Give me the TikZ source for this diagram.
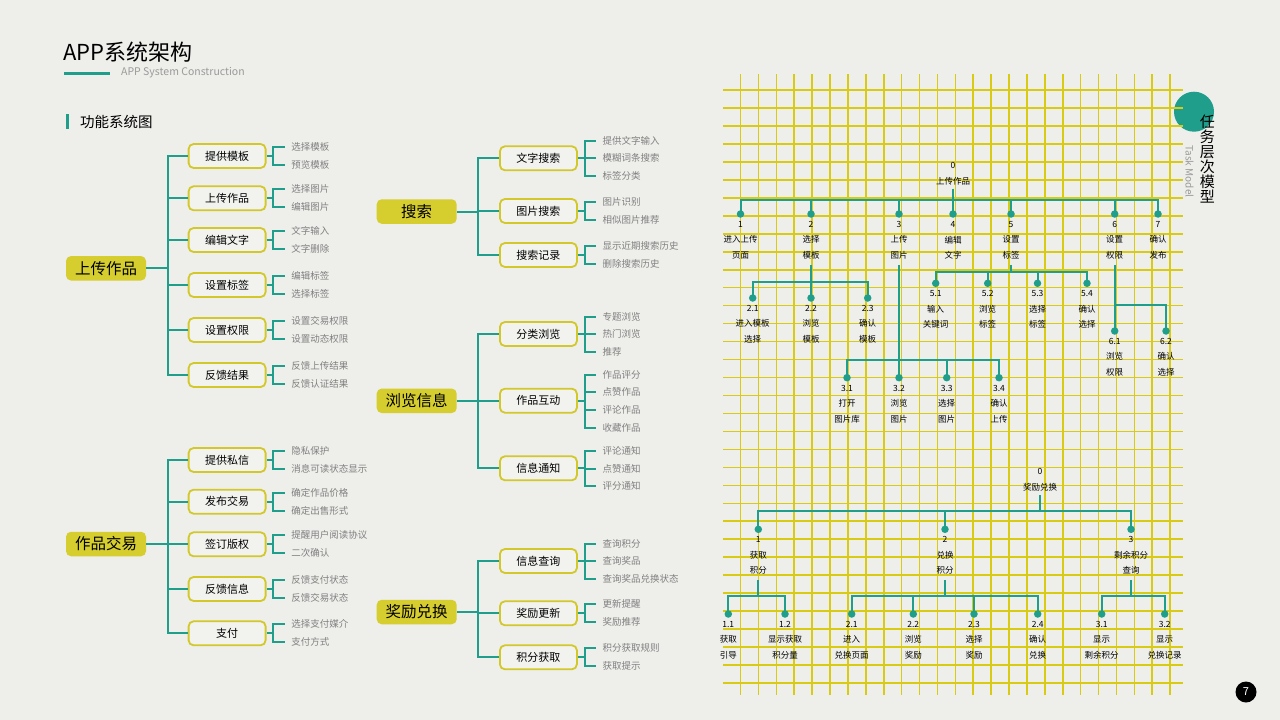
\documentclass[tikz,border=0pt]{standalone}
\usepackage{fontspec}
\setmainfont{Noto Sans CJK SC}
\definecolor{paper}{HTML}{EEEEEB}
\definecolor{teal1}{HTML}{1E9E8B}
\definecolor{ybord}{HTML}{D3C82A}
\definecolor{yfill}{HTML}{D6CD2E}
\definecolor{gridc}{HTML}{D9CB14}
\definecolor{leafc}{HTML}{808080}
\definecolor{boxfill}{HTML}{F2F2EF}
\definecolor{subc}{HTML}{9A9A9A}
\tikzset{
 conn/.style={draw=teal1, line width=2pt},
 mainbox/.style={fill=yfill, rounded corners=5pt, minimum width=80pt, minimum height=24.5pt, inner sep=0, font=\fontsize{15.5}{18}\selectfont},
 subbox/.style={draw=ybord, fill=boxfill, line width=1.8pt, rounded corners=5pt, minimum width=77pt, minimum height=24pt, inner sep=0, font=\fontsize{11}{13}\selectfont},
 leafnode/.style={anchor=west, inner sep=0, inner xsep=6.5pt, text=leafc, font=\fontsize{9.5}{11}\selectfont},
 gridl/.style={draw=gridc, line width=1.6pt},
 tdot/.style={circle, fill=teal1, minimum size=7.5pt, inner sep=0},
 tnum/.style={inner sep=0, font=\fontsize{8.5}{10}\selectfont},
 ttxt/.style={inner sep=0, align=center, font=\fontsize{8.5}{15.5}\selectfont},
}
\newcommand{\mkbranch}[6]{%
  \node[subbox,anchor=west] (#2) at (#3,#4) {#5};
  \draw[conn] (#1) |- (#2.west);
  \coordinate (#2j) at ({#3+77+8.5},#4);
  \draw[conn] (#2.east) -- (#2j);
  \foreach \ly/\lt [count=\i] in {#6} {
    \node[leafnode] (#2l\i) at ({#3+97},\ly) {\lt};
    \draw[conn] (#2j) |- (#2l\i.west);
  }
}
\newcommand{\mktask}[6]{%
  \node[tdot] (#1) at (#2,#3) {};
  \node[tnum] (#1n) at (#2,{#3+10.5}) {#4};
  \node[ttxt] (#1t) at (#2,{#3+33.5}) {#5\\#6};
}
\begin{document}
\begin{tikzpicture}[x=1pt,y=-1pt]
\useasboundingbox (0,0) rectangle (1280,720);
\fill[paper] (0,0) rectangle (1280,720);

% title
\node[anchor=west, inner sep=0, font=\fontsize{22}{26}\selectfont] (title) at (63,52) {APP系统架构};
\draw[teal1, line width=3pt] (64,73) -- (110,73);
\node[anchor=west, inner sep=0, text=subc, font=\fontsize{10.5}{12}\selectfont] (subtitle) at (121,73) {APP System Construction};
\draw[teal1, line width=3.5pt] (67.5,114) -- (67.5,128.5);
\node[anchor=west, inner sep=0, font=\fontsize{14.5}{16}\selectfont] (sec) at (80,121.5) {功能系统图};

% tree 1
\node[mainbox] (m1) at (106,268.3) {上传作品};
\coordinate (m1j) at (168,268.3);
\draw[conn] (m1.east) -- (m1j);
\mkbranch{m1j}{m1a}{187.7}{156}{提供模板}{146.5/选择模板,164.5/预览模板}
\mkbranch{m1j}{m1b}{187.7}{198.3}{上传作品}{189.3/选择图片,207.3/编辑图片}
\mkbranch{m1j}{m1c}{187.7}{240}{编辑文字}{231/文字输入,249/文字删除}
\mkbranch{m1j}{m1d}{187.7}{285}{设置标签}{276/编辑标签,294/选择标签}
\mkbranch{m1j}{m1e}{187.7}{330}{设置权限}{321/设置交易权限,339/设置动态权限}
\mkbranch{m1j}{m1f}{187.7}{375}{反馈结果}{366/反馈上传结果,384/反馈认证结果}

% tree 2
\node[mainbox] (m2) at (106,544) {作品交易};
\coordinate (m2j) at (168,544);
\draw[conn] (m2.east) -- (m2j);
\mkbranch{m2j}{m2a}{187.7}{460}{提供私信}{450.5/隐私保护,468.5/消息可读状态显示}
\mkbranch{m2j}{m2b}{187.7}{501.7}{发布交易}{492.5/确定作品价格,510.5/确定出售形式}
\mkbranch{m2j}{m2c}{187.7}{544.3}{签订版权}{535.3/提醒用户阅读协议,553.3/二次确认}
\mkbranch{m2j}{m2d}{187.7}{589}{反馈信息}{580/反馈支付状态,598/反馈交易状态}
\mkbranch{m2j}{m2e}{187.7}{633.3}{支付}{624.3/选择支付媒介,642.3/支付方式}

% tree 3
\node[mainbox] (m3) at (416.7,211.5) {搜索};
\coordinate (m3j) at (478.3,211.5);
\draw[conn] (m3.east) -- (m3j);
\mkbranch{m3j}{m3a}{499}{158.3}{文字搜索}{140.5/提供文字输入,158.3/模糊词条搜索,176/标签分类}
\mkbranch{m3j}{m3b}{499}{211}{图片搜索}{202/图片识别,220/相似图片推荐}
\mkbranch{m3j}{m3c}{499}{255}{搜索记录}{245.5/显示近期搜索历史,263.5/删除搜索历史}

% tree 4
\node[mainbox] (m4) at (416.7,400.8) {浏览信息};
\coordinate (m4j) at (478.3,400.8);
\draw[conn] (m4.east) -- (m4j);
\mkbranch{m4j}{m4a}{499}{334}{分类浏览}{316.5/专题浏览,334/热门浏览,351.5/推荐}
\mkbranch{m4j}{m4b}{499}{400.7}{作品互动}{375/作品评分,392.3/点赞作品,409.8/评论作品,427.5/收藏作品}
\mkbranch{m4j}{m4c}{499}{468.3}{信息通知}{451/评论通知,468.5/点赞通知,485.5/评分通知}

% tree 5
\node[mainbox] (m5) at (416.7,612) {奖励兑换};
\coordinate (m5j) at (478.3,612);
\draw[conn] (m5.east) -- (m5j);
\mkbranch{m5j}{m5a}{499}{561}{信息查询}{543.5/查询积分,561.3/查询奖品,578.5/查询奖品兑换状态}
\mkbranch{m5j}{m5b}{499}{613.3}{奖励更新}{603.5/更新提醒,621.5/奖励推荐}
\mkbranch{m5j}{m5c}{499}{657.3}{积分获取}{648/积分获取规则,666/获取提示}

% badge (under grid)
\fill[teal1] (1194,111.7) circle (20);

% grid
\foreach \k in {0,...,33} \draw[gridl] (723,{90+17.97*\k}) -- (1183,{90+17.97*\k});
\foreach \k in {0,...,24} \draw[gridl] ({740.5+17.9*\k},74) -- ({740.5+17.9*\k},695);

\node[inner sep=0, align=center, font=\fontsize{15}{15}\selectfont] (badge) at (1207.3,159.2) {任\\务\\层\\次\\模\\型};
\node[inner sep=0, rotate=-90, text=subc, font=\fontsize{10}{12}\selectfont] (taskm) at (1189.5,171.5) {Task Model};

% upper task tree
\node[tnum] (a0n) at (953,165) {0};
\node[ttxt] (a0) at (953,181) {上传作品};
\coordinate (a0j) at (953,200);
\mktask{a1}{740.5}{214}{1}{进入上传}{页面}
\mktask{a2}{811}{214}{2}{选择}{模板}
\mktask{a3}{899}{214}{3}{上传}{图片}
\mktask{a4}{953}{214}{4}{编辑}{文字}
\mktask{a5}{1011}{214}{5}{设置}{标签}
\mktask{a6}{1114.7}{214}{6}{设置}{权限}
\mktask{a7}{1158}{214}{7}{确认}{发布}
\draw[conn] ([yshift=-3.5pt]a0.south) -- (a0j);
\foreach \c in {a1,a2,a3,a4,a5,a6,a7} \draw[conn] (a0j) -| (\c.center);

\mktask{a21}{752.7}{298}{2.1}{进入模板}{选择}
\mktask{a22}{811}{298}{2.2}{浏览}{模板}
\mktask{a23}{867.7}{298}{2.3}{确认}{模板}
\coordinate (a2j) at (811,282);
\draw[conn] ([yshift=-5.5pt]a2t.south) -- (a2j);
\foreach \c in {a21,a22,a23} \draw[conn] (a2j) -| (\c.center);

\mktask{a31}{847}{377.7}{3.1}{打开}{图片库}
\mktask{a32}{899}{377.7}{3.2}{浏览}{图片}
\mktask{a33}{946.7}{377.7}{3.3}{选择}{图片}
\mktask{a34}{999}{377.7}{3.4}{确认}{上传}
\coordinate (a3j) at (899,360);
\draw[conn] ([yshift=-5.5pt]a3t.south) -- (a3j);
\foreach \c in {a31,a32,a33,a34} \draw[conn] (a3j) -| (\c.center);

\mktask{a51}{935.7}{283.3}{5.1}{输入}{关键词}
\mktask{a52}{987.7}{283.3}{5.2}{浏览}{标签}
\mktask{a53}{1037.5}{283.3}{5.3}{选择}{标签}
\mktask{a54}{1087}{283.3}{5.4}{确认}{选择}
\coordinate (a5j) at (1011,272);
\draw[conn] ([yshift=-5.5pt]a5t.south) -- (a5j);
\foreach \c in {a51,a52,a53,a54} \draw[conn] (a5j) -| (\c.center);

\mktask{a61}{1114.7}{331}{6.1}{浏览}{权限}
\mktask{a62}{1166}{331}{6.2}{确认}{选择}
\coordinate (a6j) at (1114.7,305);
\draw[conn] ([yshift=-5.5pt]a6t.south) -- (a6j);
\foreach \c in {a61,a62} \draw[conn] (a6j) -| (\c.center);

% lower task tree
\node[tnum] (b0n) at (1040,471.7) {0};
\node[ttxt] (b0) at (1040,487.3) {奖励兑换};
\coordinate (b0j) at (1040,511);
\mktask{b1}{758.3}{529.3}{1}{获取}{积分}
\mktask{b2}{945}{529.3}{2}{兑换}{积分}
\mktask{b3}{1131}{529.3}{3}{剩余积分}{查询}
\draw[conn] ([yshift=-4pt]b0.south) -- (b0j);
\foreach \c in {b1,b2,b3} \draw[conn] (b0j) -| (\c.center);

\mktask{b11}{728.3}{614}{1.1}{获取}{引导}
\mktask{b12}{785}{614}{1.2}{显示获取}{积分量}
\mktask{b21}{851.7}{614}{2.1}{进入}{兑换页面}
\mktask{b22}{913.3}{614}{2.2}{浏览}{奖励}
\mktask{b23}{974}{614}{2.3}{选择}{奖励}
\mktask{b24}{1037.7}{614}{2.4}{确认}{兑换}
\mktask{b31}{1101.7}{614}{3.1}{显示}{剩余积分}
\mktask{b32}{1164.7}{614}{3.2}{显示}{兑换记录}
\coordinate (b1j) at (758.3,596);
\coordinate (b2j) at (945,596);
\coordinate (b3j) at (1131,596);
\draw[conn] ([yshift=-5.5pt]b1t.south) -- (b1j);
\draw[conn] ([yshift=-5.5pt]b2t.south) -- (b2j);
\draw[conn] ([yshift=-5.5pt]b3t.south) -- (b3j);
\foreach \c in {b11,b12} \draw[conn] (b1j) -| (\c.center);
\foreach \c in {b21,b22,b23,b24} \draw[conn] (b2j) -| (\c.center);
\foreach \c in {b31,b32} \draw[conn] (b3j) -| (\c.center);

% page number
\node[circle, fill=black, minimum size=21pt, inner sep=0, text=white, font=\fontsize{11}{12}\selectfont] (pg) at (1246,692) {7};
\end{tikzpicture}
\end{document}
